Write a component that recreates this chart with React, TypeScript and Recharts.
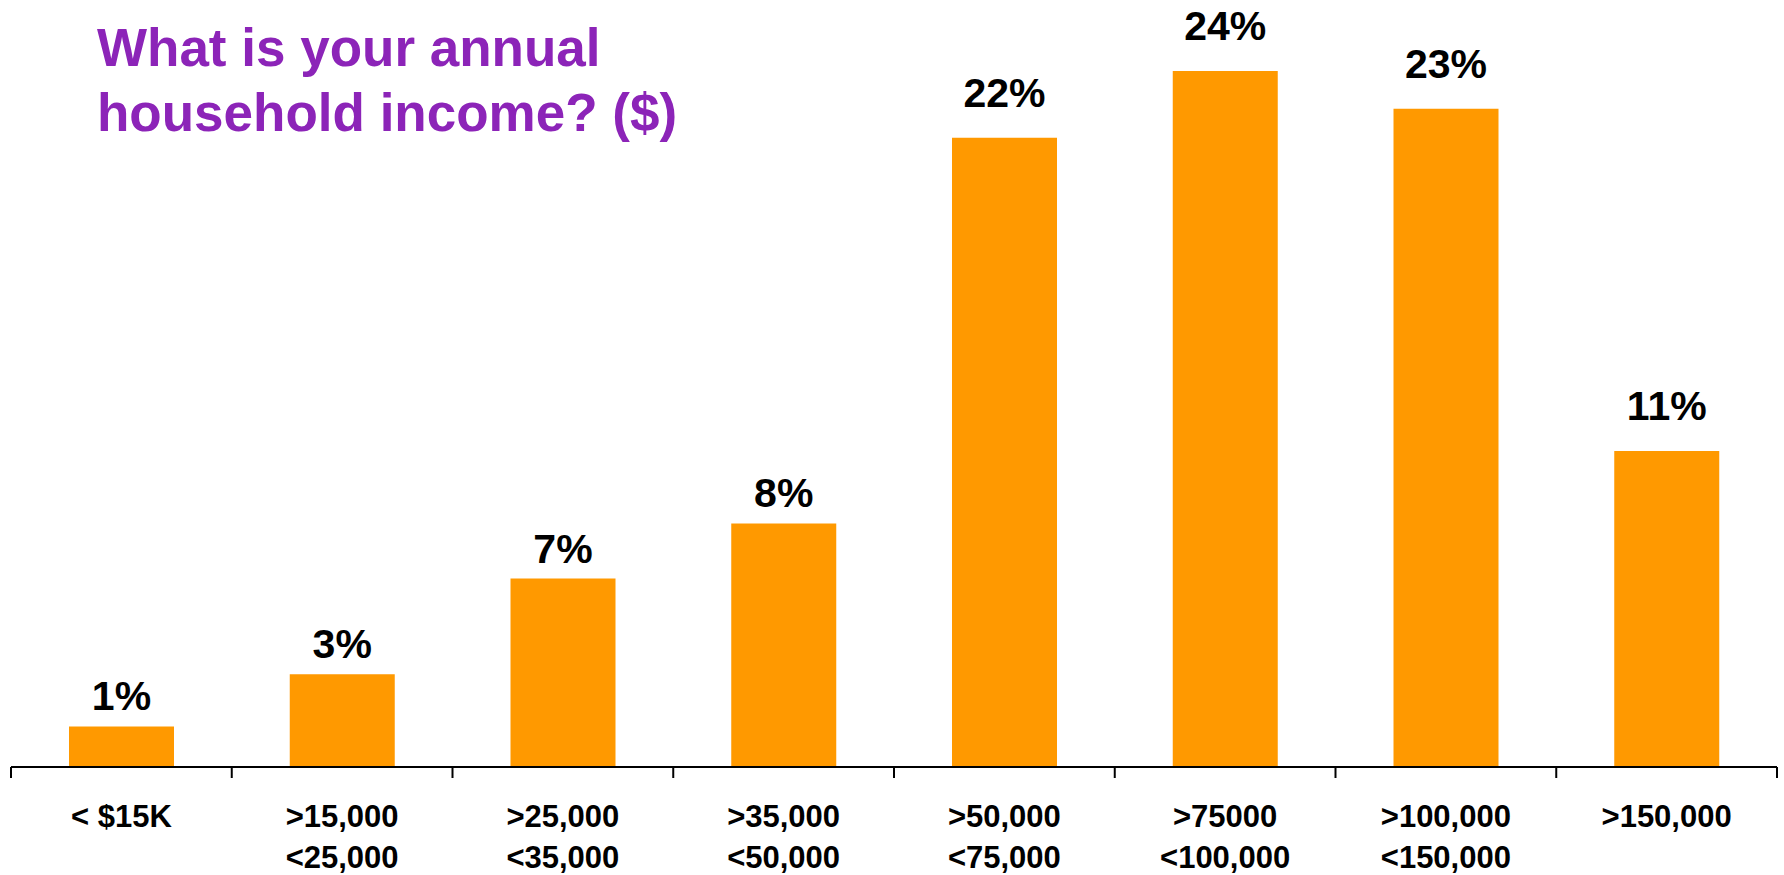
import React from 'react';
import { BarChart, Bar, XAxis, YAxis, LabelList } from 'recharts';

// income brackets, two lines per tick label
const bracketTop = ['< $15K', '>15,000', '>25,000', '>35,000', '>50,000', '>75000', '>100,000', '>150,000'];
const bracketBottom = ['', '<25,000', '<35,000', '<50,000', '<75,000', '<100,000', '<150,000', ''];

// share of respondents (%), bar heights
const shares = [1.4, 3.2, 6.5, 8.4, 21.7, 24, 22.7, 10.9];
const shareLabels = ['1%', '3%', '7%', '8%', '22%', '24%', '23%', '11%'];

const titleLines = ['What is your annual', 'household income? ($)'];

const WIDTH = 1784;
const HEIGHT = 875;
const MARGIN = { top: 42, right: 7, left: 11, bottom: 0 };
const FONT = '"Liberation Sans", Arial, Helvetica, sans-serif';

const data = bracketTop.map((top, i) => ({
  key: String(i),
  top,
  bottom: bracketBottom[i],
  share: shares[i],
  label: shareLabels[i],
}));

const band = (WIDTH - MARGIN.left - MARGIN.right) / data.length;

/**
 * Tick with two-line label and boundary tick marks
 */
function BracketTick(props: any) {
  const { x, y, payload, index } = props;
  const row = data[Number(payload.value)];
  const left = x - band / 2;
  const right = x + band / 2;
  return (
    <g>
      <line x1={left} y1={y} x2={left} y2={y + 11} stroke="#000" strokeWidth={2} />
      {index === data.length - 1 && (
        <line x1={right} y1={y} x2={right} y2={y + 11} stroke="#000" strokeWidth={2} />
      )}
      <text x={x} y={y + 60} textAnchor="middle" fontFamily={FONT} fontWeight="bold" fontSize={31} fill="#000">
        {row.top}
      </text>
      {row.bottom && (
        <text x={x} y={y + 101} textAnchor="middle" fontFamily={FONT} fontWeight="bold" fontSize={31} fill="#000">
          {row.bottom}
        </text>
      )}
    </g>
  );
}

// labels of one digit sit closer to their bars than the two-digit ones
function ValueLabel(props: any) {
  const { x, y, width, value } = props;
  const lift = String(value).length > 2 ? 31 : 16;
  return (
    <text
      x={x + width / 2}
      y={y - lift}
      textAnchor="middle"
      fontFamily={FONT}
      fontWeight="bold"
      fontSize={41}
      fill="#000"
    >
      {value}
    </text>
  );
}

export default function App() {
  return (
    <div style={{ position: 'absolute', left: 0, top: 0, width: WIDTH, height: HEIGHT, background: '#fff' }}>
      <BarChart width={WIDTH} height={HEIGHT} data={data} margin={MARGIN}>
        <XAxis
          dataKey="key"
          height={HEIGHT - 767}
          axisLine={{ stroke: '#000', strokeWidth: 2 }}
          tickLine={false}
          tickSize={0}
          tickMargin={0}
          interval={0}
          tick={<BracketTick />}
        />
        <YAxis hide domain={[0, 25]} type="number" />
        <Bar dataKey="share" fill="#FF9900" barSize={105} isAnimationActive={false}>
          <LabelList dataKey="label" content={<ValueLabel />} />
        </Bar>
      </BarChart>
      <svg width={WIDTH} height={160} style={{ position: 'absolute', left: 0, top: 0, pointerEvents: 'none' }}>
        {titleLines.map((line, i) => (
          <text key={line} x={97} y={66 + i * 65} fontFamily={FONT} fontWeight="bold" fontSize={53} fill="#8C24B8">
            {line}
          </text>
        ))}
      </svg>
    </div>
  );
}
